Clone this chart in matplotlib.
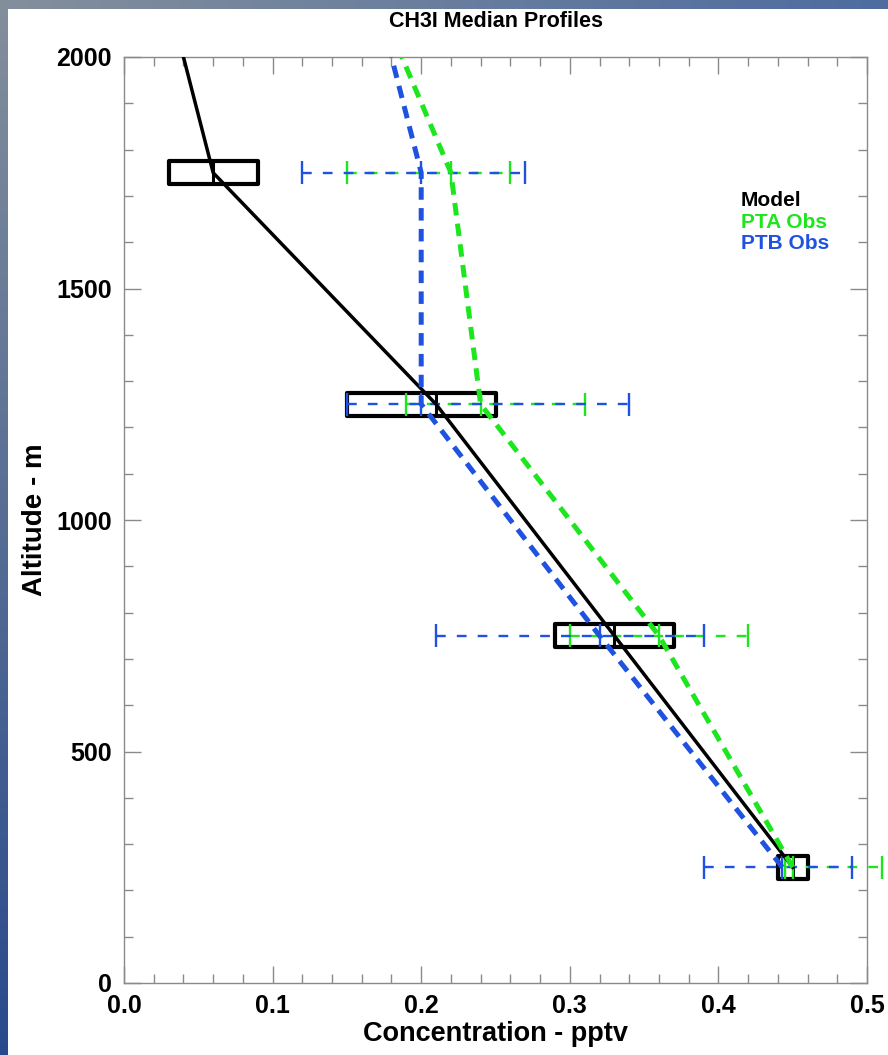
import numpy as np
import matplotlib
matplotlib.use("Agg")
import matplotlib.pyplot as plt
from matplotlib.patches import Rectangle

plt.rcParams['font.family'] = ['Liberation Sans', 'DejaVu Sans']
plt.rcParams['font.weight'] = 'bold'
plt.rcParams['lines.scale_dashes'] = False

# Altitude bins (m) of the median profiles
levels = [250, 750, 1250, 1750]

# Model box statistics (pptv)
model_q1 = [0.44, 0.29, 0.15, 0.03]
model_med = [0.45, 0.33, 0.21, 0.06]
model_q3 = [0.46, 0.37, 0.25, 0.09]

# PTA observations: min / median / max (pptv)
pta_min = [0.445, 0.30, 0.19, 0.15]
pta_med = [0.45, 0.36, 0.24, 0.22]
pta_max = [0.51, 0.42, 0.31, 0.26]

# PTB observations: min / median / max (pptv)
ptb_min = [0.39, 0.21, 0.15, 0.12]
ptb_med = [0.443, 0.32, 0.20, 0.20]
ptb_max = [0.49, 0.39, 0.34, 0.27]

# Profile lines, extended to the top of the plotted range
profile_alt = [250, 750, 1250, 1750, 2000]
model_profile = [0.45, 0.33, 0.21, 0.06, 0.04]
pta_profile = [0.45, 0.36, 0.24, 0.22, 0.187]
ptb_profile = [0.443, 0.32, 0.20, 0.20, 0.18]

legend_labels = ["Model", "PTA Obs", "PTB Obs"]

BLACK = "#000000"
GREEN = "#1ee61e"
BLUE = "#1f52e0"

W, H = 888, 1055
fig = plt.figure(figsize=(W / 100, H / 100), dpi=100)

# Slide-style frame: gradient strips on the top and left edges
bg = np.ones((H, W, 3))
top_l = np.array([132, 143, 156]) / 255
top_r = np.array([78, 108, 160]) / 255
t = np.linspace(0, 1, W)[:, None]
bg[:9, :, :] = (top_l * (1 - t) + top_r * t)[None, :, :]
left_b = np.array([40, 74, 140]) / 255
s = np.linspace(0, 1, H)[:, None]
bg[:, :8, :] = (top_l * (1 - s) + left_b * s)[:, None, :]
fig.figimage(bg, 0, 0, zorder=-10, origin='upper')

ax = fig.add_axes([124 / W, 1 - 983 / H, (867 - 124) / W, (983 - 57) / H])
ax.set_zorder(1)
ax.set_facecolor("white")
ax.set_xlim(0, 0.5)
ax.set_ylim(0, 2000)

half = 25  # half height of boxes and bar ticks (m)

# Model boxes
for alt, q1, md, q3 in zip(levels, model_q1, model_med, model_q3):
    ax.add_patch(Rectangle((q1, alt - half), q3 - q1, 2 * half, fill=False,
                           edgecolor=BLACK, linewidth=3.0, joinstyle='round', zorder=3))
    ax.vlines(md, alt - half, alt + half, color=BLACK, linewidth=2.2, zorder=3)

# Observation ranges: dashed span with ticks at min, median and max
def obs_bars(mins, meds, maxs, color, z):
    for alt, lo, md, hi in zip(levels, mins, meds, maxs):
        ax.plot([lo, hi], [alt, alt], color=color, linewidth=1.7,
                dashes=(7, 8), zorder=z, clip_on=False)
        ax.vlines([lo, md, hi], alt - half, alt + half, color=color,
                  linewidth=1.7, zorder=z, clip_on=False)

obs_bars(pta_min, pta_med, pta_max, GREEN, 4)
obs_bars(ptb_min, ptb_med, ptb_max, BLUE, 4.5)

# Median profiles
ax.plot(model_profile, profile_alt, color=BLACK, linewidth=2.5, zorder=5)
ax.plot(pta_profile, profile_alt, color=GREEN, linewidth=3.6, dashes=(9, 6), zorder=5)
ax.plot(ptb_profile, profile_alt, color=BLUE, linewidth=3.6, dashes=(9, 6), zorder=5.5)

# Legend as coloured text
for lab, col, ya in zip(legend_labels, [BLACK, GREEN, BLUE], [1690, 1643, 1597]):
    ax.text(0.415, ya, lab, color=col, fontsize=15, fontweight='bold',
            va='center', ha='left')

ax.set_xticks(np.arange(0, 0.51, 0.1))
ax.set_xticks(np.arange(0, 0.501, 0.02), minor=True)
ax.set_yticks(np.arange(0, 2001, 500))
ax.set_yticks(np.arange(0, 2001, 100), minor=True)
ax.set_xticklabels([f"{v:.1f}" for v in np.arange(0, 0.51, 0.1)])
ax.set_yticklabels([f"{int(v)}" for v in np.arange(0, 2001, 500)])

ax.tick_params(which='both', direction='in', top=True, right=True,
               color='#8a8a8a', width=1.0, labelsize=18, labelcolor='black')
ax.tick_params(which='major', length=12)
ax.tick_params(which='minor', length=6.5)
ax.tick_params(axis='x', pad=8)
ax.tick_params(axis='y', pad=9)
for lbl in ax.get_xticklabels() + ax.get_yticklabels():
    lbl.set_fontweight('bold')
for sp in ax.spines.values():
    sp.set_color('#8a8a8a')
    sp.set_linewidth(1.0)

ax.set_xlabel("Concentration - pptv", fontsize=19.5, fontweight='bold', labelpad=2)
ax.set_ylabel("Altitude - m", fontsize=20, fontweight='bold', labelpad=6)

fig.text(496 / W, 1 - 27 / H, "CH3I Median Profiles", fontsize=15.5,
         fontweight='bold', ha='center', va='baseline')

fig.savefig("out.png", dpi=100)
